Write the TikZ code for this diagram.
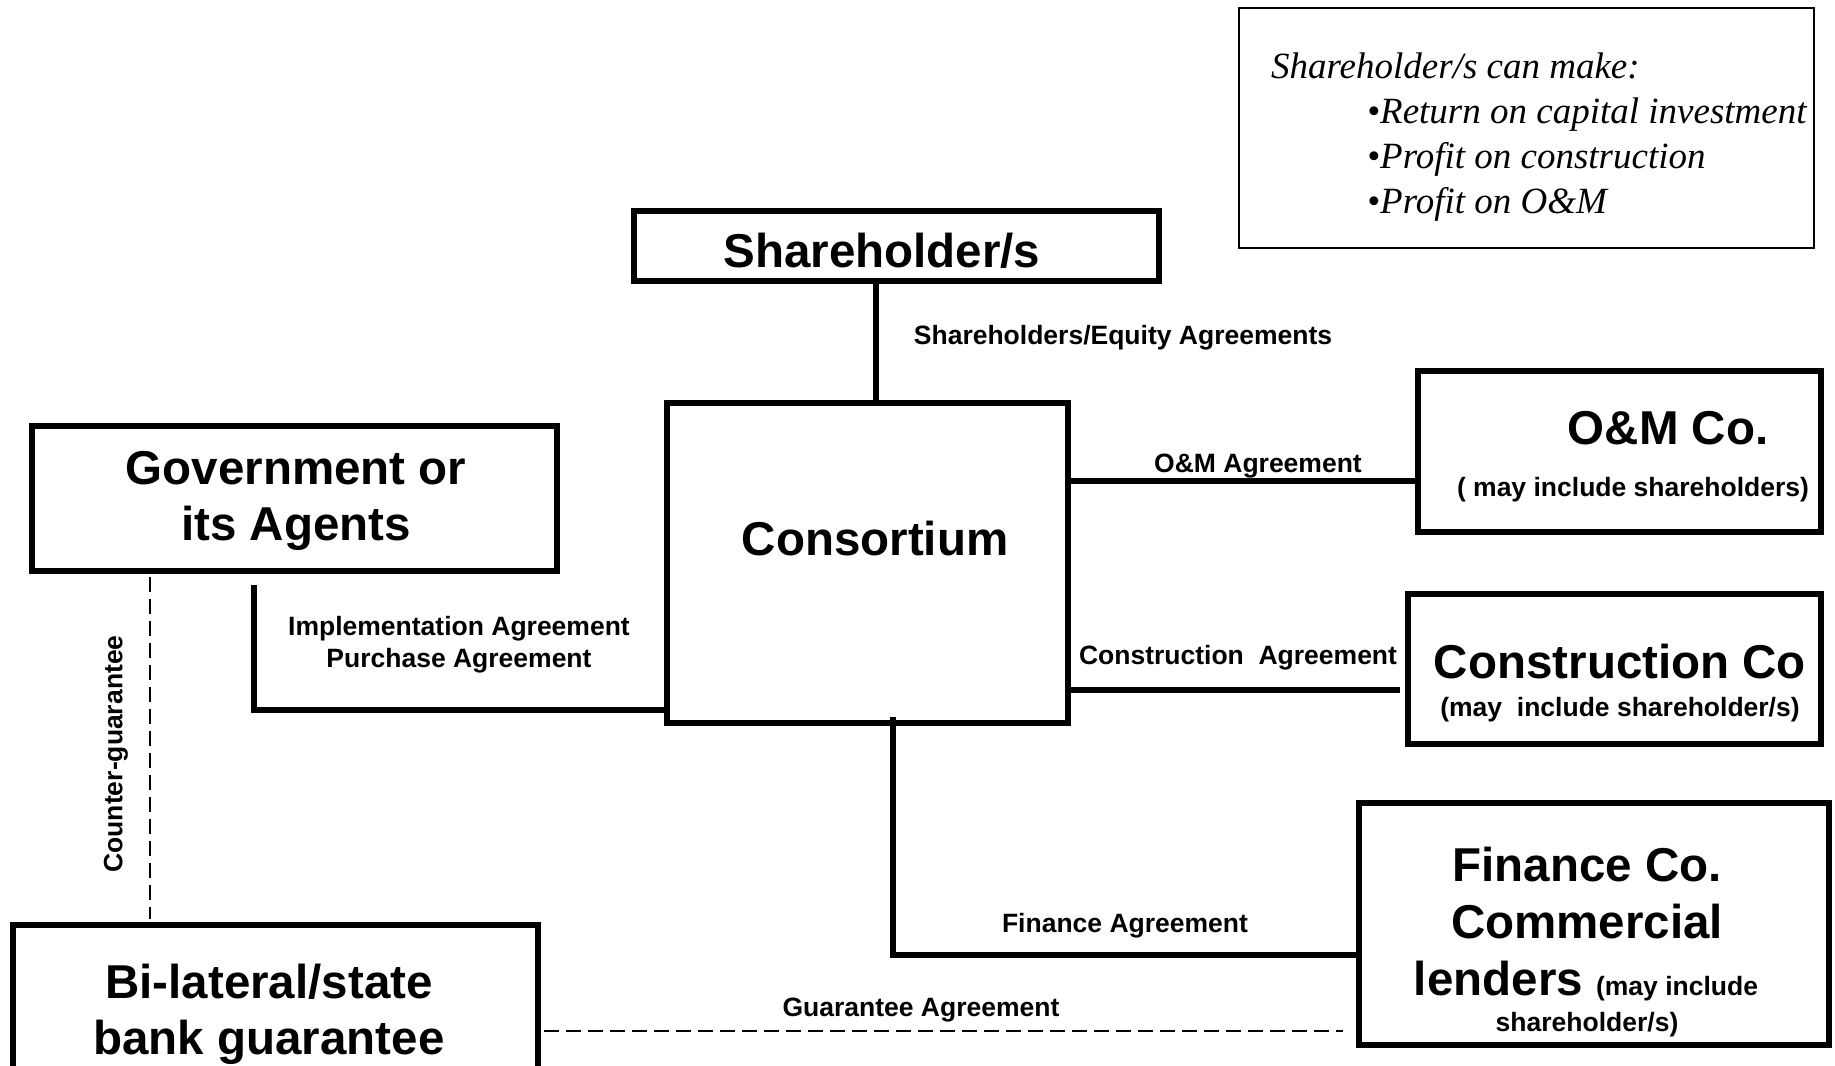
\documentclass[tikz,border=0pt]{standalone}
\usepackage{fontspec}
\setmainfont{Liberation Sans}
\newfontfamily\notefont{Liberation Serif}
\usepackage{tikz}
\tikzset{%
  partybox/.style={draw=black, line width=6pt, inner sep=0pt},
  notebox/.style={draw=black, line width=2.5pt, inner sep=0pt},
  link/.style={line width=6pt},
  dashlink/.style={line width=2pt, dash pattern=on 15pt off 7pt},
  bigtext/.style={font=\bfseries\fontsize{47.5}{56}\selectfont, anchor=base, inner sep=0pt},
  smalltext/.style={font=\bfseries\fontsize{26.5}{32}\selectfont, anchor=base, inner sep=0pt},
  notetext/.style={font=\notefont\itshape\fontsize{37}{44}\selectfont, anchor=base west, inner sep=0pt}
}

\begin{document}
\begin{tikzpicture}[x=1pt, y=-1pt]
\path[use as bounding box, fill=white] (0,0) rectangle (1835,1065);
\clip (0,0) rectangle (1835,1065);

% boxes
\node [partybox, minimum width=525, minimum height=70] (share) at (896.5,246) {};
\node [partybox, minimum width=401, minimum height=320] (cons) at (867.5,563) {};
\node [partybox, minimum width=525, minimum height=145] (gov) at (294.5,498.5) {};
\node [partybox, minimum width=525, minimum height=168] (bank) at (275.5,1009) {};
\node [partybox, minimum width=403, minimum height=161] (om) at (1619.5,451.5) {};
\node [partybox, minimum width=413, minimum height=150] (cco) at (1614.5,669) {};
\node [partybox, minimum width=470, minimum height=242] (fin) at (1594,924) {};
\node [notebox, minimum width=575, minimum height=240] (note) at (1526.5,128) {};

% box texts
\node [bigtext] (sharename) at (882,267) {Shareholder/s};
\node [bigtext] (consname) at (875,555) {Consortium};
\node [bigtext] (govname1) at (296,484) {Government or};
\node [bigtext] (govname2) at (296,540) {its Agents};
\node [bigtext] (bankname1) at (269,998) {Bi-lateral/state};
\node [bigtext] (bankname2) at (269,1054) {bank guarantee};
\node [bigtext] (omname) at (1668,444) {O\&M Co.};
\node [smalltext] (omsub) at (1633,496) {( may include shareholders)};
\node [bigtext] (cconame) at (1620,678) {Construction Co};
\node [smalltext] (ccosub) at (1620,716) {(may\ \ include shareholder/s)};
\node [bigtext] (finname1) at (1587,881) {Finance Co.};
\node [bigtext] (finname2) at (1587,938) {Commercial};
\node [bigtext] (finname3) at (1586,995) {lenders {\fontsize{26.5}{32}\selectfont (may include}};
\node [smalltext] (finsub) at (1587,1031) {shareholder/s)};

% note
\node [notetext] (notehead) at (1271,78) {Shareholder/s can make:};
\foreach \txt [count=\i] in {Return on capital investment, Profit on construction, Profit on O\&M} {
  \node [notetext] (bullet\i) at (1367,79+44.8*\i) {\textbullet\txt};
}

% agreements
\draw [link] ([xshift=8.5pt]cons.north) -- ([xshift=8.5pt]cons.north |- share.south);
\draw [link] ([xshift=-40.5pt, yshift=-11pt]gov.south) |- ([yshift=16pt]cons.south west);
\draw [link] ([yshift=-29.5pt]om.west) -- ([yshift=-29.5pt]om.west -| cons.east);
\draw [link] ([xshift=-5pt, yshift=-21pt]cco.west) -- ([yshift=-21pt]cco.west -| cons.east);
\draw [link] ([xshift=25.5pt, yshift=9pt]cons.south) |- ([yshift=-31pt]fin.west);
\draw [dashlink, shorten <=3pt, shorten >=3pt] ([xshift=-144.5pt]gov.south) -- ([xshift=-144.5pt]gov.south |- bank.north);
\draw [dashlink, shorten <=3pt, shorten >=13pt] ([yshift=-22pt]bank.east) -- ([yshift=-22pt]bank.east -| fin.west);

\node [smalltext] (sharelab) at (1123,344) {Shareholders/Equity Agreements};
\node [smalltext] (omlab) at (1258,472) {O\&M Agreement};
\node [smalltext] (govlab1) at (459,635) {Implementation Agreement};
\node [smalltext] (govlab2) at (459,667) {Purchase Agreement};
\node [smalltext] (ccolab) at (1238,664) {Construction\ \ Agreement};
\node [smalltext] (finlab) at (1125,932) {Finance Agreement};
\node [smalltext] (banklab) at (921,1016) {Guarantee Agreement};
\node [smalltext, anchor=center, rotate=90] (counterlab) at (116,754) {Counter-guarantee};

\end{tikzpicture}
\end{document}
